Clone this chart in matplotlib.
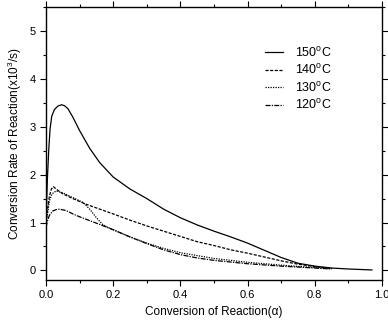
import matplotlib
matplotlib.use("Agg")
import matplotlib.pyplot as plt
from matplotlib.ticker import MultipleLocator

plt.rcParams['font.family'] = ['Liberation Sans', 'DejaVu Sans']
plt.rcParams['mathtext.fontset'] = 'custom'
plt.rcParams['mathtext.rm'] = 'Liberation Sans'
plt.rcParams['mathtext.it'] = 'Liberation Sans:italic'

# 150 C
x150 = [0.0, 0.004, 0.008, 0.012, 0.017, 0.025, 0.035, 0.046, 0.055, 0.065, 0.08, 0.1, 0.13, 0.16,
        0.2, 0.25, 0.3, 0.35, 0.4, 0.45, 0.5, 0.55, 0.6, 0.65, 0.7, 0.75, 0.8, 0.85, 0.9, 0.97]
y150 = [1.0, 1.9, 2.5, 2.95, 3.22, 3.36, 3.43, 3.46, 3.44, 3.38, 3.2, 2.92, 2.55, 2.25,
        1.95, 1.7, 1.5, 1.28, 1.1, 0.95, 0.82, 0.7, 0.57, 0.42, 0.27, 0.15, 0.09, 0.05, 0.03, 0.01]
# 140 C
x140 = [0.0, 0.005, 0.01, 0.016, 0.022, 0.03, 0.05, 0.08, 0.12, 0.16, 0.2, 0.25, 0.3,
        0.35, 0.4, 0.45, 0.5, 0.55, 0.6, 0.65, 0.7, 0.75, 0.8, 0.85]
y140 = [1.0, 1.3, 1.55, 1.7, 1.75, 1.7, 1.6, 1.5, 1.38, 1.28, 1.18, 1.05, 0.93,
        0.82, 0.71, 0.6, 0.52, 0.43, 0.36, 0.28, 0.2, 0.13, 0.08, 0.04]
# 130 C
x130 = [0.0, 0.005, 0.01, 0.018, 0.03, 0.05, 0.08, 0.11, 0.13, 0.15, 0.17, 0.19,
        0.25, 0.3, 0.35, 0.4, 0.5, 0.6, 0.7, 0.8, 0.85]
y130 = [1.0, 1.2, 1.45, 1.6, 1.66, 1.62, 1.52, 1.42, 1.28, 1.1, 0.95, 0.88,
        0.7, 0.57, 0.46, 0.37, 0.25, 0.17, 0.11, 0.06, 0.04]
# 120 C
x120 = [0.0, 0.005, 0.01, 0.02, 0.03, 0.04, 0.06, 0.08, 0.1, 0.13, 0.16, 0.2, 0.25,
        0.3, 0.35, 0.4, 0.45, 0.5, 0.6, 0.7, 0.8, 0.85]
y120 = [0.9, 1.05, 1.15, 1.24, 1.27, 1.28, 1.25, 1.18, 1.12, 1.04, 0.96, 0.85, 0.7,
        0.56, 0.43, 0.33, 0.26, 0.21, 0.14, 0.09, 0.05, 0.03]

fig = plt.figure(figsize=(3.88, 3.21), dpi=100)
ax = fig.add_axes([0.1186, 0.1277, 0.8659, 0.8503])

lw = 0.9
ax.plot(x150, y150, color='black', lw=lw, ls='-', label='150$^{\\mathrm{o}}$C')
ax.plot(x140, y140, color='black', lw=lw, ls=(0, (2.5, 1.2)), label='140$^{\\mathrm{o}}$C')
ax.plot(x130, y130, color='black', lw=lw, ls=(0, (1, 1)), label='130$^{\\mathrm{o}}$C')
ax.plot(x120, y120, color='black', lw=lw, ls=(0, (4, 1, 1, 1)), label='120$^{\\mathrm{o}}$C')

ax.set_xlim(0, 1.0)
ax.set_ylim(-0.2, 5.5)
ax.xaxis.set_major_locator(MultipleLocator(0.2))
ax.xaxis.set_minor_locator(MultipleLocator(0.1))
ax.yaxis.set_major_locator(MultipleLocator(1))
ax.yaxis.set_minor_locator(MultipleLocator(0.5))
ax.xaxis.set_major_formatter(plt.FormatStrFormatter('%.1f'))
ax.tick_params(which='both', direction='out', top=True, right=True, labelsize=8, width=0.8)
ax.tick_params(which='major', length=4)
ax.tick_params(which='minor', length=2.5)
for s in ax.spines.values():
    s.set_linewidth(1.0)

ax.set_xlabel('Conversion of Reaction(\u03b1)', fontsize=8.5)
ax.set_ylabel('Conversion Rate of Reaction(x10$^{3}$/s)', fontsize=8.5)

ax.legend(loc='upper right', bbox_to_anchor=(0.885, 0.90), frameon=False, fontsize=9,
          handlelength=1.4, handletextpad=1.0, labelspacing=0.28)

fig.savefig('out.png', dpi=100)
